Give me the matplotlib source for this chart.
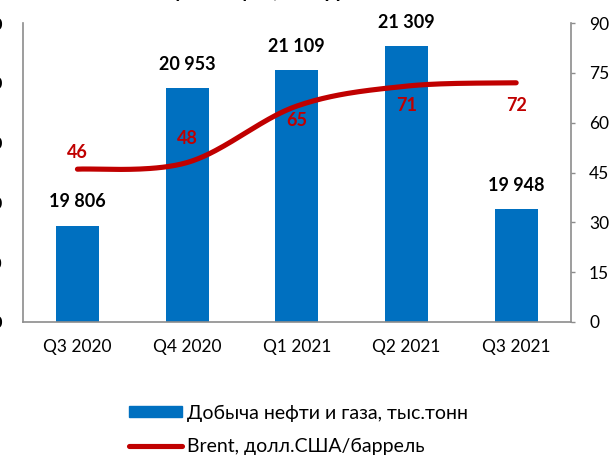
import matplotlib
matplotlib.use("Agg")
import matplotlib.pyplot as plt
import numpy as np
from matplotlib.ticker import FuncFormatter
from matplotlib.patches import Patch
from matplotlib.lines import Line2D

plt.rcParams['font.family'] = ['Lato', 'Noto Sans', 'DejaVu Sans']

# данные
quarters = ['Q3 2020', 'Q4 2020', 'Q1 2021', 'Q2 2021', 'Q3 2021']
production = [19806, 20953, 21109, 21309, 19948]
brent = [46, 48, 65, 71, 72]
bar_labels = ['19 806', '20 953', '21 109', '21 309', '19 948']
left_ticks = [19000, 19500, 20000, 20500, 21000, 21500]
right_ticks = [0, 15, 30, 45, 60, 75, 90]

blue = '#0070C0'
red = '#C00000'
grey = '#8C8C8C'

fig = plt.figure(figsize=(6.14, 4.55), dpi=100)
ax = fig.add_axes([22.6 / 614, 1 - 322 / 455, 548.4 / 614, 299 / 455])
ax2 = ax.twinx()

x = np.arange(len(quarters))
ax.bar(x, production, width=0.39, color=blue, zorder=2)
ax.set_ylim(19000, 21500)
ax.set_xlim(-0.5, len(quarters) - 0.5)
ax.set_yticks(left_ticks)
ax.yaxis.set_major_formatter(FuncFormatter(lambda v, p: f'{int(v):,}'.replace(',', ' ')))
ax.tick_params(axis='y', length=0, pad=14.8, labelsize=12.5, labelcolor='black')
for t in ax.get_yticklabels():
    t.set_fontweight('bold')
ax.set_xticks(x)
ax.set_xticklabels(quarters)
ax.tick_params(axis='x', length=0, pad=12, labelsize=12.5)

for xi, v, lab in zip(x, production, bar_labels):
    ax.annotate(lab, (xi, v), xytext=(0, 17), textcoords='offset points',
                ha='center', va='center', fontsize=13, fontweight='bold')

# сглаженная линия (как в Excel)
def smooth(px, py, n=40):
    pts = np.column_stack([px, py]).astype(float)
    pts = np.vstack([pts[0], pts, pts[-1]])
    out = []
    for i in range(1, len(pts) - 2):
        p0, p1, p2, p3 = pts[i - 1], pts[i], pts[i + 1], pts[i + 2]
        c1 = p1 + (p2 - p0) / 6
        c2 = p2 - (p3 - p1) / 6
        t = np.linspace(0, 1, n)[:, None]
        seg = (1 - t) ** 3 * p1 + 3 * (1 - t) ** 2 * t * c1 + 3 * (1 - t) * t ** 2 * c2 + t ** 3 * p2
        out.append(seg)
    return np.vstack(out)

curve = smooth(x, brent)
ax2.plot(curve[:, 0], curve[:, 1], color=red, lw=3.7, solid_capstyle='round', zorder=3)
ax2.set_ylim(0, 90)
ax2.set_yticks(right_ticks)
ax2.tick_params(axis='y', length=3, width=1, color=grey, pad=10, labelsize=12.5)

offsets_px = [-17, -24, 14, 19, 23]
for xi, v, off in zip(x, brent, offsets_px):
    ax2.annotate(str(v), (xi, v), xytext=(0, -off * 0.72), textcoords='offset points',
                 ha='center', va='center', fontsize=13, fontweight='bold', color=red)

for a in (ax, ax2):
    a.spines['top'].set_visible(False)
    for s in ('left', 'right', 'bottom'):
        a.spines[s].set_color(grey)
        a.spines[s].set_linewidth(1.2)
ax2.spines['left'].set_visible(False)
ax2.spines['bottom'].set_visible(False)
ax.spines['right'].set_visible(False)

# заголовок (обрезан сверху)
fig.text(255 / 614, 1 + 2 / 455, 'Цена нефти, $/барр', ha='center', va='baseline',
         fontsize=14, fontweight='bold')

handles = [Patch(color=blue), Line2D([0], [0], color=red, lw=3.7, solid_capstyle='round')]
labels = ['Добыча нефти и газа, тыс.тонн', 'Brent, долл.США/баррель']
fig.legend(handles, labels, loc='center left', bbox_to_anchor=(129 / 614, 1 - 430 / 455),
           frameon=False, fontsize=14, handlelength=2.75, handleheight=0.48,
           handletextpad=0.22, labelspacing=0.85, borderpad=0, borderaxespad=0)

fig.savefig('out.png', dpi=100)
